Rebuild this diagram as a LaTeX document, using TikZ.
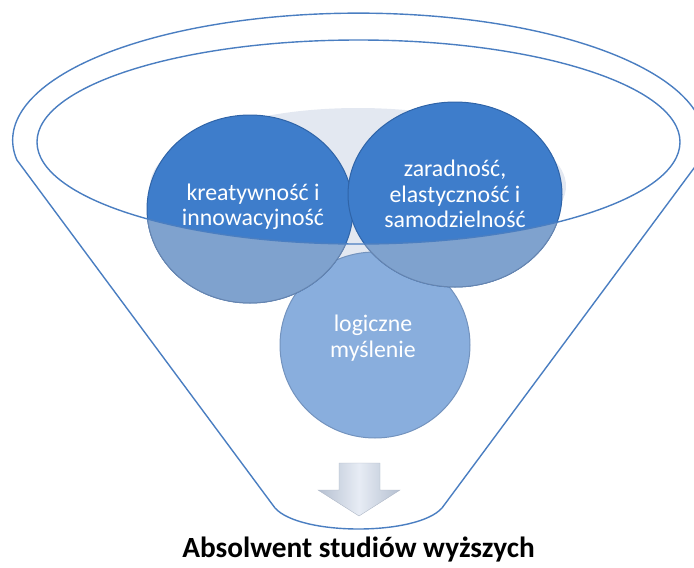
\documentclass[tikz,border=0pt]{standalone}
\usepackage{fontspec}
\setmainfont{Carlito}
\usetikzlibrary{shapes.geometric}
\definecolor{funline}{HTML}{4A7EC1}
\definecolor{darkc}{HTML}{3E7DCB}
\definecolor{darkrim}{HTML}{2F64A8}
\definecolor{lowc}{HTML}{7FA2CE}
\definecolor{lowrim}{HTML}{6685B0}
\definecolor{botc}{HTML}{89AEDD}
\definecolor{botrim}{HTML}{7393BE}
\definecolor{grayell}{HTML}{E3E8F1}
\definecolor{arrowc}{HTML}{C3D0E5}
\tikzset{
  funnel/.style={draw=funline, line width=1.4pt},
  ctext/.style={text=white, align=center, font=\fontsize{23.8}{25.5}\selectfont},
  btext/.style={text=black, font=\fontsize{29.3}{32}\selectfont\bfseries},
}
\begin{document}
\begin{tikzpicture}[x=1pt,y=-1pt]
\useasboundingbox (0,0) rectangle (694,568);
% back surface of funnel
\fill[grayell] (358,186) ellipse [x radius=208, y radius=78];
% bottom circle
\fill[botc, draw=botrim, line width=1pt] (375,345) ellipse [x radius=95, y radius=93];
% top circles (dark)
\fill[darkc, draw=darkrim, line width=1pt] (250,209) ellipse [x radius=103, y radius=94];
\fill[darkc, draw=darkrim, line width=1pt] (455,194.5) ellipse [x radius=107, y radius=92.5];
% lighter part below the rim
\begin{scope}
\clip (37,142) arc [start angle=180, end angle=0, x radius=321.5, y radius=102] -- (700,600) -- (0,600) -- cycle;
\fill[lowc, draw=lowrim, line width=1pt] (250,209) ellipse [x radius=103, y radius=94];
\fill[lowc, draw=lowrim, line width=1pt] (455,194.5) ellipse [x radius=107, y radius=92.5];
\end{scope}
% funnel outlines
\draw[funnel] (358.5,142) ellipse [x radius=321.5, y radius=102];
\draw[funnel, line join=round] (700,160) arc [start angle=9, end angle=-189, x radius=345.8, y radius=127]
  -- (275,508) .. controls (300,536) and (417,536) .. (442,508) -- cycle;
% texts
\node[ctext] (t1) at (253,207) {kreatywność i\\innowacyjność};
\node[ctext] (t2) at (455,194) {zaradność,\\elastyczność i\\samodzielność};
\node[ctext] (t3) at (373,338) {logiczne\\myślenie};
% arrow
\shade[left color=arrowc!80!gray, right color=arrowc!80!gray, middle color=arrowc!40!white, draw=arrowc!70!gray, line width=0.4pt]
  (339,463) -- (380,463) -- (380,490) -- (400,490) -- (359,516) -- (318,490) -- (339,490) -- cycle;
\node[btext] (res) at (358.5,549) {Absolwent studiów wyższych};
\end{tikzpicture}
\end{document}
